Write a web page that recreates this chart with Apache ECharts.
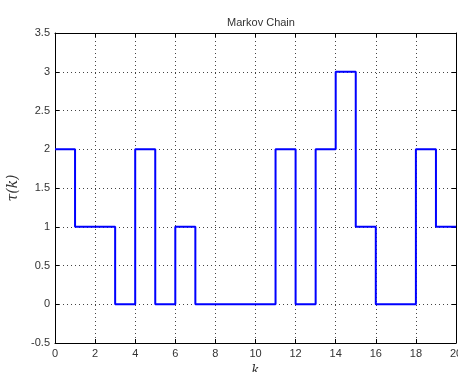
<!DOCTYPE html>
<html><head><meta charset="utf-8">
<script src="https://cdn.jsdelivr.net/npm/echarts@6/dist/echarts.min.js"></script>
<style>html,body{margin:0;padding:0;background:#fff;overflow:hidden}#c{width:458px;height:372px}</style>
</head><body><div id="c"></div>
<script>
var kValues = [0,1,2,3,4,5,6,7,8,9,10,11,12,13,14,15,16,17,18,19,20];
var tauValues = [2,1,1,0,2,0,1,0,0,0,0,2,0,2,3,1,0,0,2,1,1];
var xTicks = {min:0, max:20, interval:2};
var yTicks = {min:-0.5, max:3.5, interval:0.5};
var titleText = 'Markov Chain';
var xName = 'k';
var yName = 'τ(k)';

var chart = echarts.init(document.getElementById('c'));
var lblFont = {fontFamily:'Liberation Sans, Arial, sans-serif', fontSize:11, color:'#333'};
var gridLine = {show:true, lineStyle:{color:'#444', type:[1,3], width:1}};
var axLine = {show:true, onZero:false, lineStyle:{color:'#000', width:1}};
var tick = {show:true, inside:true, length:4, lineStyle:{color:'#000'}};
chart.setOption({
  animation:false,
  backgroundColor:'#fff',
  title:{text:titleText, left:256, top:12, textAlign:'center',
    textStyle:{fontFamily:'Liberation Sans, Arial, sans-serif', fontSize:11, fontWeight:'normal', color:'#333'}},
  grid:{left:55, right:2, top:33, bottom:29, containLabel:false, outerBoundsMode:'none'},
  xAxis:[{
    type:'value', min:xTicks.min, max:xTicks.max, interval:xTicks.interval,
    axisLine:axLine, axisTick:tick, splitLine:gridLine,
    axisLabel:Object.assign({margin:5}, lblFont),
    name:xName, nameLocation:'middle', nameGap:15,
    nameTextStyle:{fontFamily:'DejaVu Serif, Liberation Serif, serif', fontStyle:'italic', fontSize:13, color:'#333'}
  },{
    type:'value', position:'top', min:xTicks.min, max:xTicks.max, interval:xTicks.interval,
    axisLine:axLine, axisTick:tick, axisLabel:{show:false}, splitLine:{show:false}
  }],
  yAxis:[{
    type:'value', min:yTicks.min, max:yTicks.max, interval:yTicks.interval,
    axisLine:axLine, axisTick:tick, splitLine:gridLine,
    axisLabel:Object.assign({margin:5, formatter:function(v){return String(v);}}, lblFont),
    name:yName, nameLocation:'middle', nameGap:26, nameRotate:90,
    nameTextStyle:{fontFamily:'DejaVu Serif, Liberation Serif, serif', fontStyle:'italic', fontSize:14, color:'#333'}
  },{
    type:'value', position:'right', min:yTicks.min, max:yTicks.max, interval:yTicks.interval,
    axisLine:axLine, axisTick:tick, axisLabel:{show:false}, splitLine:{show:false}
  }],
  series:[{
    type:'line', step:'end', showSymbol:false, symbol:'none',
    data:kValues.map(function(k,i){return [k, tauValues[i]];}),
    lineStyle:{color:'#0000ff', width:2}
  }]
});
</script></body></html>
